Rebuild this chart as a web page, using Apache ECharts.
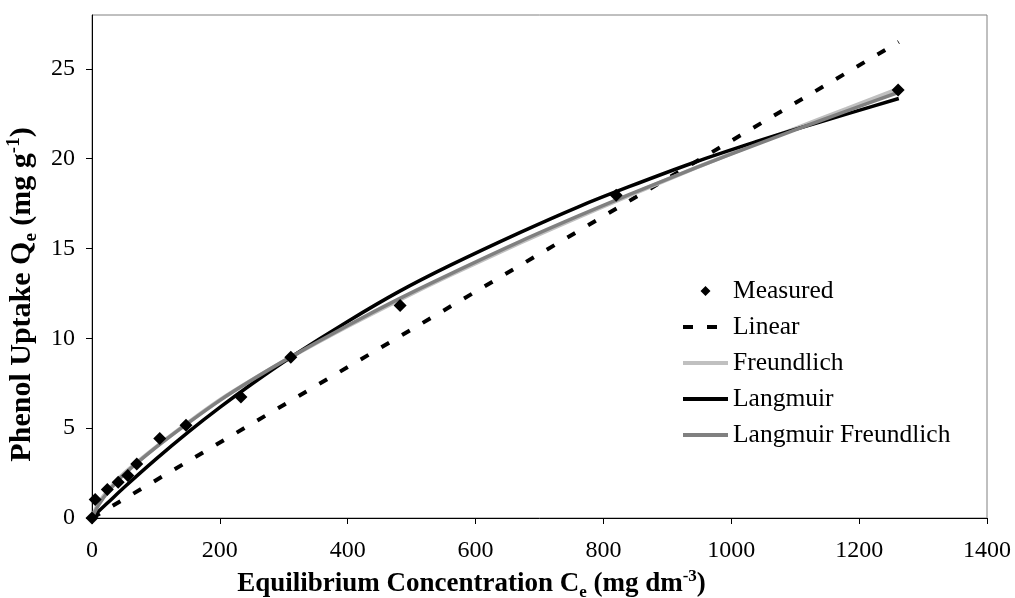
<!DOCTYPE html>
<html>
<head>
<meta charset="utf-8">
<title>Phenol uptake isotherms</title>
<script src="https://cdn.jsdelivr.net/npm/echarts@6/dist/echarts.min.js"></script>
<style>
  html, body { margin: 0; padding: 0; background: #fff; }
  #chart { width: 1015px; height: 598px; }
</style>
</head>
<body>
<div id="chart"></div>
<script>
// Measured equilibrium data: concentration Ce (mg dm-3) and uptake Qe (mg g-1)
const measuredCe = [0, 5, 24, 41, 56, 70, 106, 147, 233, 311, 482, 820, 1261];
const measuredQe = [0, 1.03, 1.58, 1.99, 2.36, 3.01, 4.42, 5.16, 6.73, 8.95, 11.83, 17.97, 23.83];

// Linear isotherm line
const linearCe = [0, 1262];
const linearQe = [0, 26.5];

// Model curves sampled along Ce
const modelCe = [0, 10, 25, 50, 100, 150, 200, 250, 311, 400, 480, 560, 670, 760, 840, 945, 1040, 1100, 1180, 1262];
const freundlichQe = [0, 0.80, 1.53, 2.48, 3.95, 5.3, 6.57, 7.68, 8.95, 10.67, 12.13, 13.51, 15.32, 16.73, 17.95, 19.5, 20.85, 21.68, 22.77, 23.9];
const langmuirQe = [0, 0.36, 0.86, 1.70, 3.28, 4.77, 6.16, 7.46, 8.95, 10.94, 12.6, 14.06, 15.9, 17.31, 18.44, 19.83, 20.96, 21.63, 22.48, 23.35];
const langmuirFreundlichQe = [0, 0.70, 1.45, 2.42, 3.93, 5.28, 6.55, 7.68, 8.97, 10.72, 12.2, 13.58, 15.4, 16.8, 18.0, 19.5, 20.8, 21.6, 22.65, 23.7];

// Axis ticks
const xTicks = [0, 200, 400, 600, 800, 1000, 1200, 1400];
const yTicks = [0, 5, 10, 15, 20, 25];

const pairs = (xs, ys) => xs.map((x, i) => [x, ys[i]]);

const FONT = "'Liberation Serif', 'Times New Roman', serif";

// Legend icons, all spanning the same 45 x 11 box so they keep their shape:
// a small diamond, two short dashes, and a flat bar
const EDGES = 'M0,5.45H0.1V5.55H0Z M44.9,5.45H45V5.55H44.9Z';
const DIAMOND_ICON = 'path://M22.5,0.5L27.5,5.5L22.5,10.5L17.5,5.5Z ' + EDGES;
const DASH_ICON = 'path://M0,3.5H10V7.5H0Z M24,3.5H34V7.5H24Z M0,0H0.1V0.1H0Z M44.9,10.9H45V11H44.9Z';
const BAR_ICON = 'path://M0,3.5H45V7.5H0Z M0,0H0.1V0.1H0Z M44.9,10.9H45V11H44.9Z';

const titleRich = (size) => ({
  b: { fontFamily: FONT, fontSize: size, fontWeight: 'bold', color: '#000', lineHeight: size + 6 },
  sub: { fontFamily: FONT, fontSize: Math.round(size * 0.62), fontWeight: 'bold', color: '#000', lineHeight: Math.round(size * 0.62), verticalAlign: 'bottom' },
  sup: { fontFamily: FONT, fontSize: Math.round(size * 0.62), fontWeight: 'bold', color: '#000', lineHeight: Math.round(size * 0.62), verticalAlign: 'top' }
});

const chart = echarts.init(document.getElementById('chart'), null, { renderer: 'canvas' });

chart.setOption({
  animation: false,
  backgroundColor: '#ffffff',
  textStyle: { fontFamily: FONT, color: '#000' },
  grid: {
    left: 92, right: 28, top: 15, bottom: 80,
    outerBoundsMode: 'none', containLabel: false,
    show: true, borderColor: '#808080', borderWidth: 1
  },
  legend: {
    orient: 'vertical',
    left: 678, top: 273,
    itemWidth: 45, itemHeight: 11, itemGap: 10,
    symbolKeepAspect: true,
    textStyle: { fontFamily: FONT, fontSize: 25.5, lineHeight: 24, color: '#000' },
    data: [
      { name: 'Measured', icon: DIAMOND_ICON, itemStyle: { color: '#000', borderWidth: 0 } },
      { name: 'Linear', icon: DASH_ICON, itemStyle: { color: '#000', borderWidth: 0 } },
      { name: 'Freundlich', icon: BAR_ICON, itemStyle: { color: '#c0c0c0', borderWidth: 0 } },
      { name: 'Langmuir', icon: BAR_ICON, itemStyle: { color: '#000', borderWidth: 0 } },
      { name: 'Langmuir Freundlich', icon: BAR_ICON, itemStyle: { color: '#808080', borderWidth: 0 } }
    ]
  },
  xAxis: {
    type: 'value', min: 0, max: 1400, interval: 200,
    splitLine: { show: false },
    axisLine: { lineStyle: { color: '#000', width: 1 } },
    axisTick: { show: true, length: 6, lineStyle: { color: '#000' }, customValues: xTicks },
    axisLabel: { fontFamily: FONT, fontSize: 24, color: '#000', margin: 21, customValues: xTicks, formatter: (v) => String(v) },
    name: '{b|Equilibrium Concentration C}{sub|e}{b| (mg dm}{sup|-3}{b|)}',
    nameLocation: 'middle', nameGap: 47,
    nameTextStyle: { padding: [0, 136, 0, 0], rich: titleRich(27) }
  },
  yAxis: {
    type: 'value', min: 0, max: 28, interval: 5,
    splitLine: { show: false },
    axisLine: { show: true, lineStyle: { color: '#000', width: 1 } },
    axisTick: { show: true, length: 6, lineStyle: { color: '#000' }, customValues: yTicks },
    axisLabel: { fontFamily: FONT, fontSize: 24, color: '#000', margin: 17, customValues: yTicks, formatter: (v) => String(v) },
    name: '{b|Phenol Uptake Q}{sub|e}{b| (mg g}{sup|-1}{b|)}',
    nameLocation: 'middle', nameGap: 40, nameRotate: 90,
    nameTextStyle: { padding: [0, 56, 0, 0], rich: titleRich(30) }
  },
  series: [
    {
      name: 'Measured', type: 'scatter', symbol: 'diamond', symbolSize: 13,
      itemStyle: { color: '#000', opacity: 1 }, z: 10,
      data: pairs(measuredCe, measuredQe)
    },
    {
      name: 'Linear', type: 'line', showSymbol: false, symbol: 'none',
      lineStyle: { color: '#000', width: 4, type: [9, 15] },
      itemStyle: { color: '#000' },
      data: pairs(linearCe, linearQe)
    },
    {
      name: 'Freundlich', type: 'line', showSymbol: false, symbol: 'none', smooth: 0.3,
      lineStyle: { color: '#c0c0c0', width: 4 },
      itemStyle: { color: '#c0c0c0' },
      data: pairs(modelCe, freundlichQe)
    },
    {
      name: 'Langmuir', type: 'line', showSymbol: false, symbol: 'none', smooth: 0.3,
      lineStyle: { color: '#000', width: 3.5 },
      itemStyle: { color: '#000' },
      data: pairs(modelCe, langmuirQe)
    },
    {
      name: 'Langmuir Freundlich', type: 'line', showSymbol: false, symbol: 'none', smooth: 0.3,
      lineStyle: { color: '#808080', width: 3.5 },
      itemStyle: { color: '#808080' },
      data: pairs(modelCe, langmuirFreundlichQe)
    }
  ]
});
</script>
</body>
</html>
